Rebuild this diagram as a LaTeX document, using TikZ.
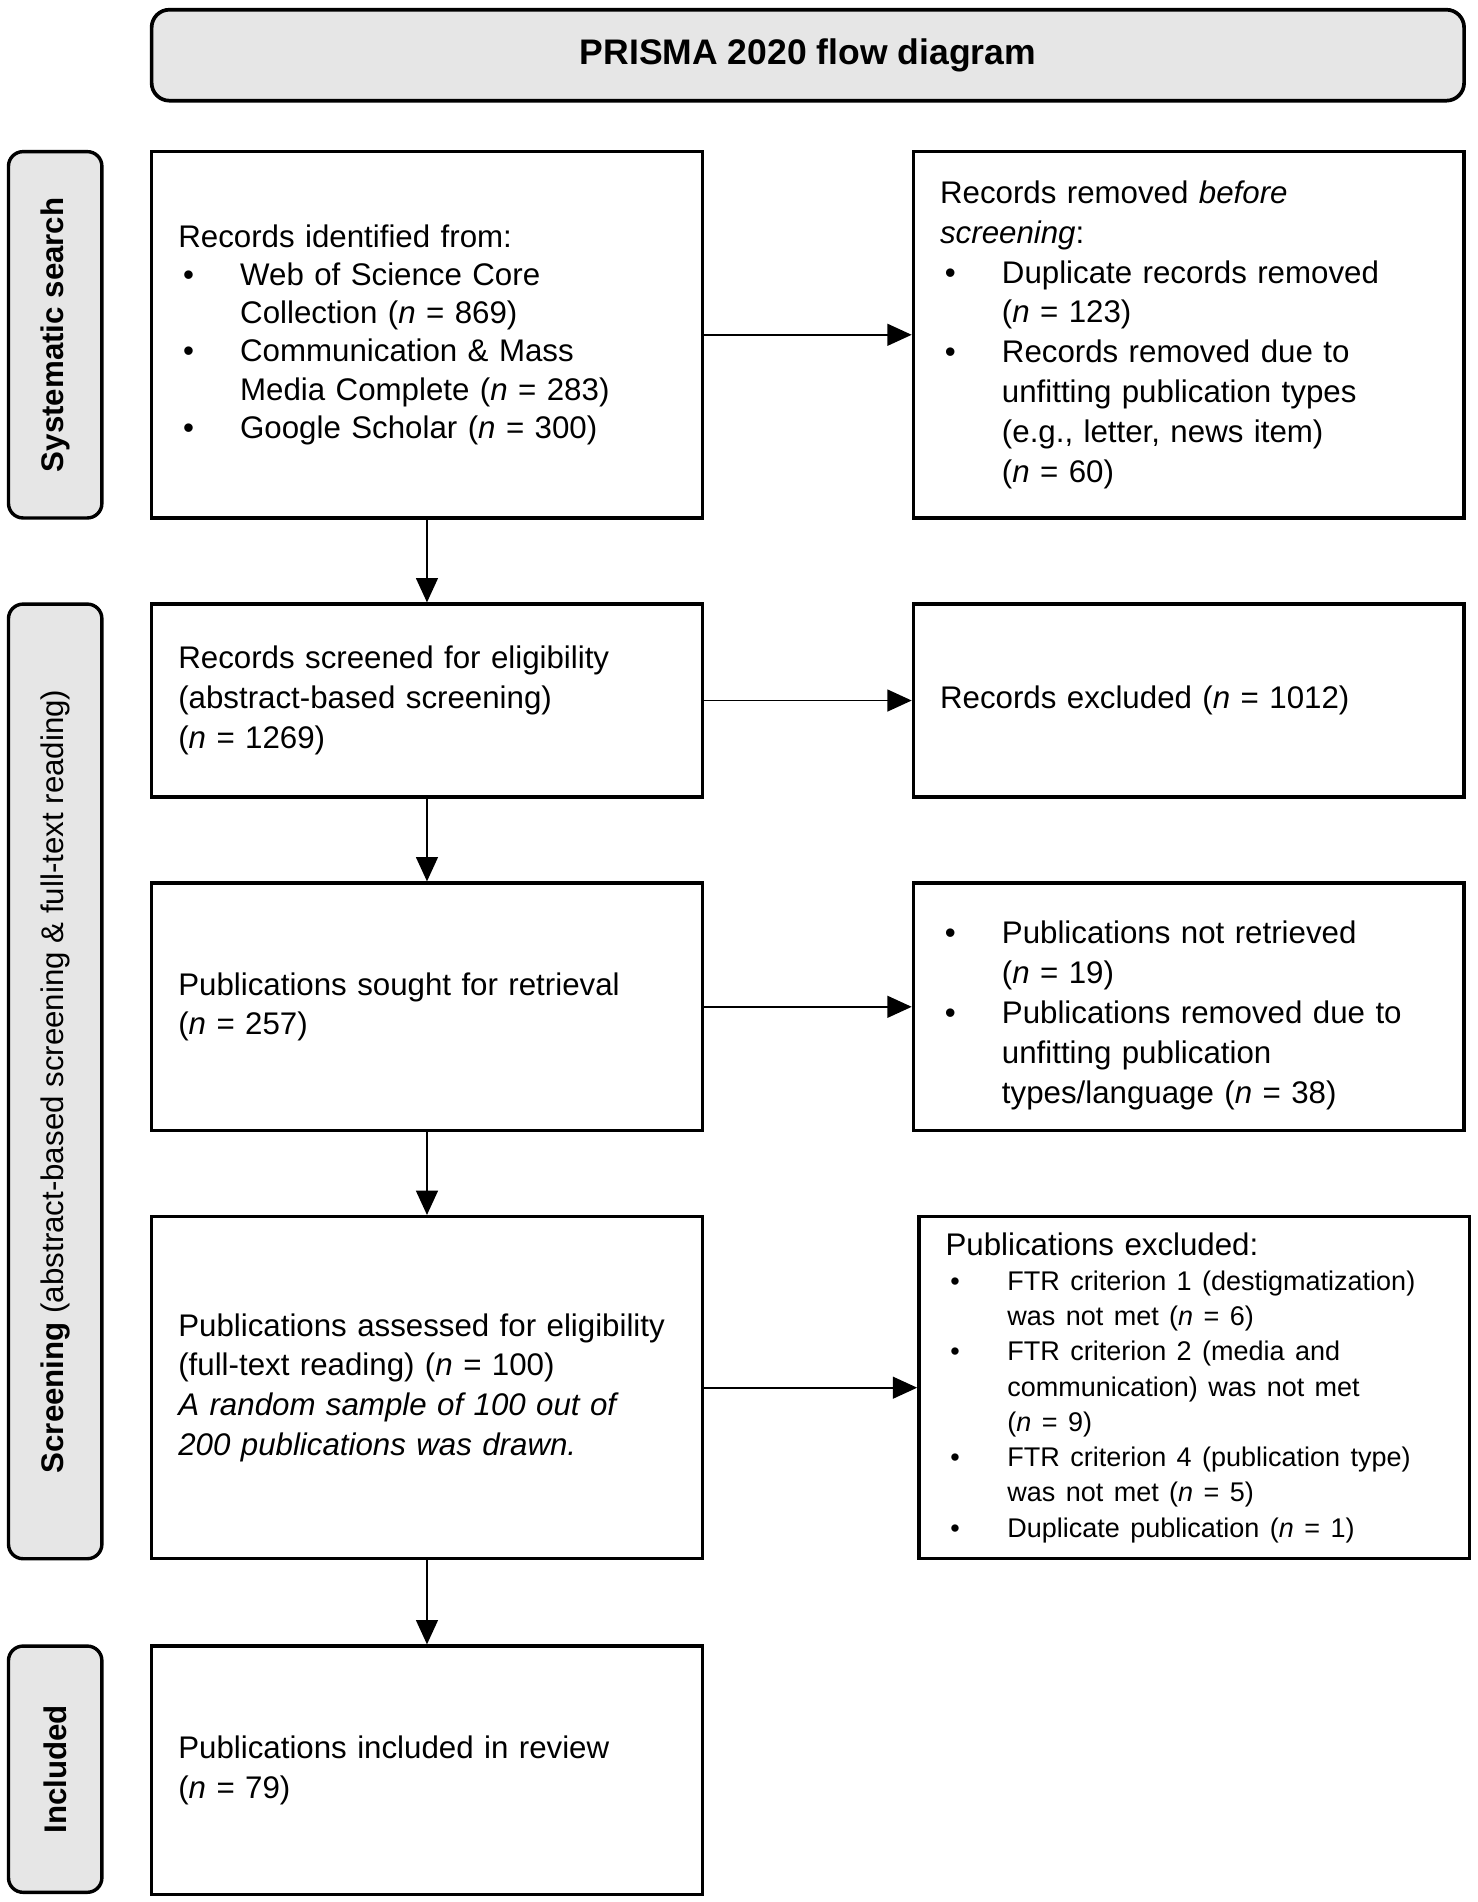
\documentclass[tikz,border=0pt]{standalone}
\usepackage{fontspec}
\setmainfont{Liberation Sans}
\usetikzlibrary{calc}
\usetikzlibrary{positioning}
\usetikzlibrary{arrows.meta}
\definecolor{phasegray}{HTML}{E6E6E6}
\tikzstyle{flowbox} = [draw, rectangle, line width=1.2pt, minimum width=6.81cm, text width=6.15cm, inner xsep=0.33cm, align=left, font=\fontsize{11}{14}\selectfont, execute at begin node={\setlength{\parindent}{0pt}}]
\tikzstyle{phasebar} = [draw, rectangle, rounded corners=0.18cm, fill=phasegray, line width=1.2pt, minimum height=1.155cm, rotate=90, font=\fontsize{11}{14}\selectfont]
\tikzstyle{titlebox} = [draw, rectangle, rounded corners=0.22cm, fill=phasegray, line width=1.3pt, minimum width=16.23cm, minimum height=1.125cm, font=\fontsize{12.5}{15}\selectfont\bfseries]
\tikzstyle{flowarrow} = [->, line width=0.6pt]
\newlength{\bulind}
\setlength{\bulind}{0.765cm}
\newcommand{\bitem}[1]{\par\hangindent=\bulind\hangafter=1\noindent\makebox[\bulind][l]{\hspace{0.06cm}\textbullet}#1\par}
\newcommand{\nn}{\textit{n}}

\begin{document}
\begin{tikzpicture}[>={Triangle[length=0.3cm, width=0.27cm]}]
    \useasboundingbox (0,0) rectangle (18.27,-23.52);

    % left column
    \node[flowbox, minimum height=4.53cm, font=\fontsize{11}{13.4}\selectfont] (rec_ident) at (5.28,-4.14)
{Records identified from:
\bitem{Web of Science Core\newline Collection (\nn{} = 869)}
\bitem{Communication \& Mass\newline Media Complete (\nn{} = 283)}
\bitem{Google Scholar (\nn{} = 300)}};
    \node[flowbox, minimum height=2.385cm] (rec_screen) at ($(rec_ident)+(0,-4.5225)$)
{Records screened for eligibility\newline (abstract-based screening)\newline (\nn{} = 1269)};
    \node[flowbox, minimum height=3.06cm] (pub_sought) at ($(rec_screen)+(0,-3.7875)$)
{Publications sought for retrieval\newline (\nn{} = 257)};
    \node[flowbox, minimum height=4.23cm] (pub_assessed) at ($(pub_sought)+(0,-4.71)$)
{Publications assessed for eligibility\newline (full-text reading) (\nn{} = 100)\newline
\textit{A random sample of 100 out of}\newline \textit{200 publications was drawn.}};
    \node[flowbox, minimum height=3.075cm] (pub_incl) at ($(pub_assessed)+(0,-4.7325)$)
{Publications included in review\newline (\nn{} = 79)};

    % right column
    \node[flowbox, minimum height=4.53cm] (rec_removed) at ($(rec_ident)+(9.42,0)$)
{Records removed \textit{before}\newline \textit{screening}:
\bitem{Duplicate records removed\newline (\nn{} = 123)}
\bitem{Records removed due to\newline unfitting publication types\newline (e.g., letter, news item)\newline (\nn{} = 60)}};
    \node[flowbox, minimum height=2.385cm] (rec_excl) at ($(rec_screen)+(9.42,0)$)
{Records excluded (\nn{} = 1012)};
    \node[flowbox, minimum height=3.06cm] (pub_notret) at ($(pub_sought)+(9.42,0)$)
{\bitem{Publications not retrieved\newline (\nn{} = 19)}
\bitem{Publications removed due to\newline unfitting publication\newline types/language (\nn{} = 38)}};
    \node[flowbox, minimum height=4.23cm] (pub_excl) at ($(pub_assessed)+(9.4875,0)$)
{Publications excluded:\par
\fontsize{9.5}{12.4}\selectfont
\bitem{FTR criterion 1 (destigmatization)\newline was not met (\nn{} = 6)}
\bitem{FTR criterion 2 (media and\newline communication) was not met\newline (\nn{} = 9)}
\bitem{FTR criterion 4 (publication type)\newline was not met (\nn{} = 5)}
\bitem{Duplicate publication (\nn{} = 1)}};

    % title and phases
    \node[titlebox] (title) at ($(rec_ident)+(4.71,3.4575)$) {PRISMA 2020 flow diagram};
    \node[phasebar, minimum width=4.53cm] (ph_search) at ($(rec_ident)+(-4.5975,0)$)
{\textbf{Systematic search}};
    \node[phasebar, minimum width=11.805cm] (ph_screen) at
($($(rec_screen.north)!0.5!(pub_assessed.south)$)+(-4.5975,0)$)
{\textbf{Screening} (abstract-based screening \& full-text reading)};
    \node[phasebar, minimum width=3.045cm] (ph_incl) at ($(pub_incl)+(-4.5975,0.015)$)
{\textbf{Included}};

    % connectors
    \draw[flowarrow] (rec_ident) -- (rec_screen);
    \draw[flowarrow] (rec_screen) -- (pub_sought);
    \draw[flowarrow] (pub_sought) -- (pub_assessed);
    \draw[flowarrow] (pub_assessed) -- (pub_incl);
    \draw[flowarrow] (rec_ident) -- (rec_removed);
    \draw[flowarrow] (rec_screen) -- (rec_excl);
    \draw[flowarrow] (pub_sought) -- (pub_notret);
    \draw[flowarrow] (pub_assessed) -- (pub_excl);
\end{tikzpicture}
\end{document}
